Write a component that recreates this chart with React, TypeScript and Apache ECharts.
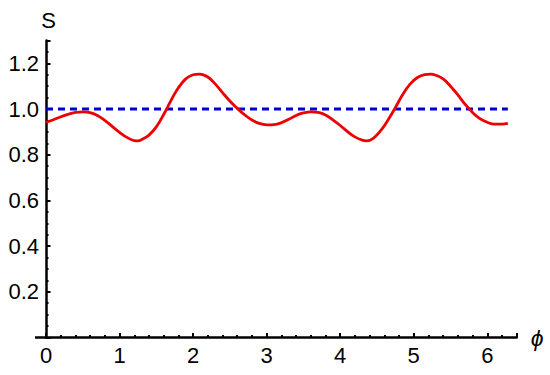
import React, { useEffect, useRef } from "react";
import * as echarts from "echarts";

// S(phi)
const phiValues = [
  0.0, 0.1, 0.2, 0.3, 0.4, 0.5, 0.6, 0.7, 0.8, 0.9, 1.0, 1.1, 1.2, 1.25, 1.3, 1.4,
  1.5, 1.6, 1.7, 1.8, 1.9, 2.0, 2.09, 2.2, 2.3, 2.4, 2.5, 2.6, 2.7, 2.8, 2.9, 3.0,
  3.1, 3.2, 3.3, 3.4, 3.5, 3.6, 3.7, 3.8, 3.9, 4.0, 4.1, 4.2, 4.3, 4.36, 4.45, 4.55,
  4.65, 4.75, 4.85, 4.95, 5.05, 5.15, 5.23, 5.3, 5.4, 5.5, 5.6, 5.7, 5.8, 5.9, 6.0,
  6.1, 6.2, 6.28,
];
const sValues = [
  0.942, 0.953, 0.966, 0.977, 0.985, 0.988, 0.984, 0.972, 0.95, 0.924, 0.898, 0.876,
  0.862, 0.861, 0.866, 0.886, 0.922, 0.976, 1.038, 1.093, 1.132, 1.15, 1.153, 1.14,
  1.11, 1.072, 1.035, 1.003, 0.975, 0.952, 0.937, 0.931,
  0.932, 0.94, 0.955, 0.972, 0.983, 0.988, 0.985, 0.974, 0.953, 0.928, 0.901, 0.878,
  0.864, 0.861, 0.872, 0.905, 0.952, 1.006, 1.064, 1.109, 1.138, 1.151, 1.153, 1.148,
  1.132, 1.1, 1.062, 1.02, 0.985, 0.958, 0.942, 0.934, 0.934, 0.937,
];
// reference level S = 1
const refPhi = [0, 6.28];
const refS = [1, 1];

const xMin = 0;
const xMax = 6.4;
const yMin = 0;
const yMax = 1.3;
const xMajor = 1;
const yMajor = 0.2;

const FONT = "'Liberation Sans', Arial, sans-serif";

export default function App() {
  const ref = useRef<HTMLDivElement>(null);

  useEffect(() => {
    document.body.style.margin = "0";
    const chart = echarts.init(ref.current!, undefined, { renderer: "svg" });
    const axisColor = "#000";
    chart.setOption({
      animation: false,
      backgroundColor: "#fff",
      grid: { left: 46, top: 40.5, width: 470.7, height: 297, containLabel: false },
      xAxis: {
        type: "value",
        min: xMin,
        max: xMax,
        interval: xMajor,
        name: "ϕ",
        nameLocation: "end",
        nameGap: 14,
        nameTextStyle: {
          fontFamily: FONT,
          fontSize: 23,
          fontStyle: "italic",
          color: "#000",
          verticalAlign: "middle",
          padding: [4, 0, 0, 0],
        },
        axisLine: { show: true, onZero: false, lineStyle: { color: axisColor, width: 2.5 } },
        axisTick: { show: true, inside: true, length: 4.5, lineStyle: { color: axisColor, width: 2 } },
        minorTick: { show: true, splitNumber: 5, length: 2.5, lineStyle: { color: axisColor, width: 2 } },
        splitLine: { show: false },
        minorSplitLine: { show: false },
        axisLabel: {
          fontFamily: FONT,
          fontSize: 22,
          color: "#000",
          margin: 7,
          formatter: (v: number) => (Math.abs(v - Math.round(v)) < 1e-9 ? String(Math.round(v)) : ""),
        },
      },
      yAxis: {
        type: "value",
        min: yMin,
        max: yMax,
        interval: yMajor,
        name: "S",
        nameLocation: "end",
        nameGap: 9,
        nameTextStyle: { fontFamily: FONT, fontSize: 22, color: "#000", align: "center", padding: [0, 0, 0, 5] },
        axisLine: { show: true, onZero: false, lineStyle: { color: axisColor, width: 2.5 } },
        axisTick: { show: true, inside: true, length: 4.5, lineStyle: { color: axisColor, width: 2 } },
        minorTick: { show: true, splitNumber: 4, length: 2.5, lineStyle: { color: axisColor, width: 2 } },
        splitLine: { show: false },
        minorSplitLine: { show: false },
        axisLabel: {
          fontFamily: FONT,
          fontSize: 22,
          color: "#000",
          margin: 7,
          formatter: (v: number) => {
            const k = v / yMajor;
            if (v < 1e-9 || Math.abs(k - Math.round(k)) > 1e-6 || v > 1.25) return "";
            return v.toFixed(1);
          },
        },
      },
      graphic: [
        {
          type: "line",
          shape: { x1: 35, y1: 337.5, x2: 47, y2: 337.5 },
          style: { stroke: "#000", lineWidth: 2.5 },
          z: 10,
        },
      ],
      series: [
        {
          type: "line",
          data: refPhi.map((p, i) => [p, refS[i]]),
          showSymbol: false,
          lineStyle: { color: "#0000cc", width: 3, type: [7, 5] },
          z: 3,
        },
        {
          type: "line",
          data: phiValues.map((p, i) => [p, sValues[i]]),
          showSymbol: false,
          smooth: 0.4,
          lineStyle: { color: "#ee0000", width: 2.8 },
          z: 4,
        },
      ],
    });
    return () => chart.dispose();
  }, []);

  return (
    <div
      ref={ref}
      style={{ position: "absolute", left: 0, top: 0, width: 550, height: 375 }}
    />
  );
}
